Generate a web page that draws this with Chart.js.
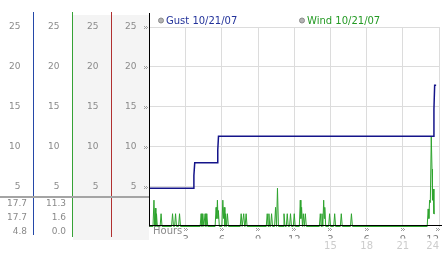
<!DOCTYPE html>
<html>
<head>
<meta charset="utf-8">
<script src="https://cdn.jsdelivr.net/npm/chart.js@4"></script>
<style>
  html, body { margin: 0; padding: 0; background: #fff; }
</style>
</head>
<body>
<canvas id="wx" width="442" height="253"></canvas>
<script>
const gustLabel = 'Gust 10/21/07'
const windLabel = 'Wind 10/21/07'

// gust, step line (hours since midnight, mph)
const gustHours  = [0, 3.62, 3.68, 3.75, 5.6, 5.66, 5.72, 23.52, 23.58, 23.64, 23.76]
const gustSpeeds = [4.8, 4.8, 6.4, 8.0, 8.0, 9.6, 11.3, 11.3, 14.7, 17.7, 17.7]

// wind, spiky
const windHours = [
  0, 0.29, 0.37, 0.43, 0.48, 0.53, 0.58, 0.65,
  0.88, 0.96, 1.04,
  1.83, 1.91, 1.99, 2.08, 2.16, 2.24, 2.41, 2.49, 2.57,
  4.2, 4.28, 4.35, 4.42, 4.5, 4.61, 4.68, 4.75, 4.83,
  5.44, 5.52, 5.58, 5.63, 5.68, 5.71, 5.79,
  6.0, 6.08, 6.14, 6.19, 6.25, 6.31, 6.38, 6.46, 6.54,
  7.52, 7.6, 7.68, 7.73, 7.81, 7.89, 7.93, 8.01, 8.09,
  9.68, 9.76, 9.83, 9.9, 9.97, 10.04, 10.12, 10.2,
  10.37, 10.45, 10.53, 10.61, 10.69,
  11.07, 11.15, 11.23, 11.34, 11.42, 11.5, 11.61, 11.69, 11.77, 11.92, 12.0, 12.08,
  12.42, 12.5, 12.55, 12.61, 12.68, 12.75, 12.83, 12.92, 13.0,
  14.08, 14.16, 14.23, 14.3, 14.37, 14.44, 14.49, 14.53, 14.61,
  14.85, 14.93, 15.01, 15.27, 15.35, 15.43, 15.82, 15.9, 15.98, 16.66, 16.74, 16.82,
  23.02, 23.1, 23.16, 23.22, 23.28, 23.36, 23.42, 23.46, 23.52, 23.58, 23.64
]
const windSpeeds = [
  0, 0, 3.3, 0, 2.3, 0, 1.6, 0,
  0, 1.6, 0,
  0, 1.6, 0, 0, 1.6, 0, 0, 1.6, 0,
  0, 1.6, 0, 1.6, 0, 1.6, 0, 1.6, 0,
  0, 2.4, 1.0, 3.3, 1.0, 2.0, 0,
  0, 3.3, 1.0, 2.4, 0, 1.6, 0, 1.6, 0,
  0, 1.6, 0, 0, 1.6, 0, 0, 1.6, 0,
  0, 1.6, 0, 1.6, 0, 0, 1.6, 0,
  0, 2.4, 0, 4.8, 0,
  0, 1.6, 0, 0, 1.6, 0, 0, 1.6, 0, 0, 1.6, 0,
  0, 3.3, 1.0, 2.4, 0, 1.6, 0, 1.6, 0,
  0, 1.6, 0, 1.6, 0, 3.3, 1.0, 2.4, 0,
  0, 1.6, 0, 0, 1.6, 0, 0, 1.6, 0, 0, 1.6, 0,
  0, 2.2, 1.0, 3.3, 3.0, 11.3, 7.2, 3.3, 4.7, 1.6, 1.6
]

const speedTicks = [5, 10, 15, 20, 25]
const hourTicks = [3, 6, 9, 12, 15, 18, 21, 24]
const clockLabels = ['3', '6', '9', '12', '3', '6', '9', '12']
const lateLabels = ['', '', '', '', '15', '18', '21', '24']

// summary rows under the side columns
const gustStats = ['17.7', '17.7', '4.8']
const windStats = ['11.3', '1.6', '0.0']

const font9 = { family: 'DejaVu Sans', size: 9 }
const font10 = { family: 'DejaVu Sans', size: 10 }

function sideAxis(weight, width) {
  return {
    type: 'linear', position: 'left', weight: weight, min: 0, max: 25,
    afterBuildTicks: s => { s.ticks = speedTicks.map(v => ({ value: v })) },
    afterFit: s => { s.width = width },
    ticks: { padding: 13, color: '#8a8a8a', font: font9 },
    grid: { display: false, drawTicks: false },
    border: { display: false }
  }
}

function dots(ctx, x, y) {
  ctx.fillStyle = '#a0a0a0'
  ctx.fillRect(x, y, 1, 1); ctx.fillRect(x + 2, y, 1, 1)
  ctx.fillRect(x + 1, y + 1, 1, 1); ctx.fillRect(x + 3, y + 1, 1, 1)
  ctx.fillRect(x, y + 2, 1, 1); ctx.fillRect(x + 2, y + 2, 1, 1)
}

const panels = {
  id: 'panels',
  beforeDraw(chart) {
    const ctx = chart.ctx
    const { c2, y } = chart.scales
    ctx.save()
    ctx.fillStyle = '#fff'
    ctx.fillRect(0, 0, chart.width, chart.height)
    ctx.fillStyle = '#f4f4f4'
    ctx.fillRect(Math.floor(c2.right) + 1, 15, Math.floor(y.right) - Math.floor(c2.right) - 1, 225)
    ctx.restore()
  },
  afterDraw(chart) {
    const ctx = chart.ctx
    const ca = chart.chartArea
    const { c1, c2, c3, x, y } = chart.scales
    ctx.save()

    // column lines
    const cols = [[c1, '#2448a8', 235], [c2, '#36a236', 237], [c3, '#b03030', 237]]
    ctx.lineWidth = 1
    for (const [s, col, end] of cols) {
      ctx.strokeStyle = col
      ctx.beginPath()
      ctx.moveTo(Math.floor(s.right) + 0.5, 12)
      ctx.lineTo(Math.floor(s.right) + 0.5, end)
      ctx.stroke()
    }
    // main axes
    ctx.strokeStyle = '#000'
    ctx.beginPath()
    ctx.moveTo(Math.floor(y.right) + 0.5, 13)
    ctx.lineTo(Math.floor(y.right) + 0.5, ca.bottom)
    ctx.moveTo(Math.floor(y.right), Math.floor(ca.bottom) - 0.5)
    ctx.lineTo(chart.width, Math.floor(ca.bottom) - 0.5)
    ctx.stroke()

    // separator + summary numbers
    ctx.fillStyle = '#a4a4a4'
    ctx.fillRect(0, 196, Math.floor(y.right), 2)
    ctx.font = '9px "DejaVu Sans"'
    ctx.fillStyle = '#8a8a8a'
    ctx.textAlign = 'right'
    ctx.textBaseline = 'middle'
    gustStats.forEach((t, i) => ctx.fillText(t, Math.floor(c1.right) - 6, 204 + i * 14))
    windStats.forEach((t, i) => ctx.fillText(t, Math.floor(c2.right) - 6, 204 + i * 14))

    // little tick markers
    speedTicks.forEach(v => dots(ctx, Math.floor(y.right) - 5, Math.round(y.getPixelForValue(v)) - 1))
    hourTicks.forEach(h => dots(ctx, Math.min(Math.round(x.getPixelForValue(h)) - 2, 436), 228))

    // Hours caption
    ctx.font = '10px "DejaVu Sans"'
    ctx.textAlign = 'left'
    ctx.fillStyle = '#8a8a8a'
    ctx.fillText('Hours', ca.left + 3.5, 231.5)

    // legend
    const items = [[gustLabel, '#22329a', ca.left + 11.5], [windLabel, '#249a24', ca.left + 152.5]]
    for (const [txt, col, cx] of items) {
      ctx.beginPath()
      ctx.arc(cx, 20.5, 2.5, 0, Math.PI * 2)
      ctx.fillStyle = '#b4b4b4'
      ctx.fill()
      ctx.strokeStyle = '#8c8c8c'
      ctx.stroke()
      ctx.fillStyle = col
      ctx.fillText(txt, cx + 5, 21)
    }
    ctx.restore()
  }
}

function noSidePadding(s, h) {
  s.height = h
  s.paddingLeft = 0
  s.paddingRight = 0
}

new Chart(document.getElementById('wx'), {
  type: 'line',
  data: {
    datasets: [
      {
        label: gustLabel,
        data: gustHours.map((h, i) => ({ x: h, y: gustSpeeds[i] })),
        borderColor: '#14148a',
        borderWidth: 1.5,
        pointRadius: 0,
        tension: 0
      },
      {
        label: windLabel,
        data: windHours.map((h, i) => ({ x: h, y: windSpeeds[i] })),
        borderColor: '#2ea42e',
        borderWidth: 1,
        pointRadius: 0,
        tension: 0,
        clip: false
      }
    ]
  },
  options: {
    responsive: false,
    animation: false,
    devicePixelRatio: 1,
    layout: { padding: { top: 27, right: 3, left: 0, bottom: 0 } },
    plugins: { legend: { display: false }, tooltip: { enabled: false } },
    scales: {
      x: {
        type: 'linear', position: 'bottom', weight: 0, min: 0, max: 24,
        afterBuildTicks: s => { s.ticks = [0, ...hourTicks].map(v => ({ value: v })) },
        afterFit: s => noSidePadding(s, 12),
        ticks: {
          align: 'inner', padding: 8, color: '#808080', font: font10, maxRotation: 0,
          callback: v => { const i = hourTicks.indexOf(v); return i < 0 ? '' : clockLabels[i] }
        },
        grid: { color: '#dcdcdc', drawTicks: false },
        border: { display: false }
      },
      x2: {
        type: 'linear', position: 'bottom', weight: 1, min: 0, max: 24,
        afterBuildTicks: s => { s.ticks = [0, ...hourTicks].map(v => ({ value: v })) },
        afterFit: s => noSidePadding(s, 14.5),
        ticks: {
          align: 'inner', padding: 2, color: '#cccccc', font: font10, maxRotation: 0,
          callback: v => { const i = hourTicks.indexOf(v); return i < 0 ? '' : lateLabels[i] }
        },
        grid: { display: false, drawTicks: false },
        border: { display: false }
      },
      y: {
        type: 'linear', position: 'left', weight: 0, min: 0, max: 25,
        afterBuildTicks: s => { s.ticks = speedTicks.map(v => ({ value: v })) },
        afterFit: s => { s.width = 38 },
        ticks: { padding: 13, color: '#8a8a8a', font: font9 },
        grid: { color: '#dcdcdc', drawTicks: false },
        border: { display: false }
      },
      c3: sideAxis(1, 39),
      c2: sideAxis(2, 39),
      c1: sideAxis(3, 33.5)
    }
  },
  plugins: [panels]
})
</script>
</body>
</html>
